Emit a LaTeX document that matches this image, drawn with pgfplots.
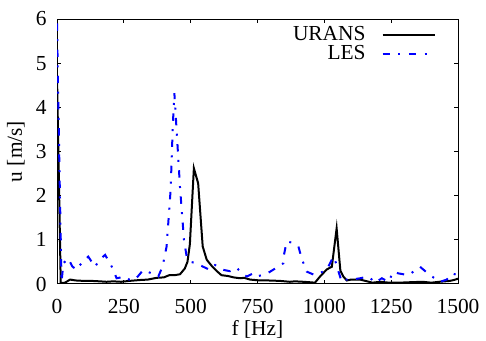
\documentclass[border=0pt]{standalone}
\usepackage{fontspec}
\setmainfont{Liberation Serif}
\usepackage{pgfplots}
\pgfplotsset{compat=1.18}
\begin{document}
\fontsize{10.7}{12}\selectfont
\begin{tikzpicture}
\begin{axis}[
  scale only axis,
  width=200.5pt, height=132.5pt,
  xmin=0, xmax=1500, ymin=0, ymax=6,
  xtick={0,250,500,750,1000,1250,1500},
  ytick={0,1,2,3,4,5,6},
  tick align=inside,
  major tick length=2.2pt,
  axis line style={line width=0.5pt},
  every tick/.style={black, line width=0.5pt},
  /pgf/number format/assume math mode=true,
  /pgf/number format/set thousands separator={},
  ticklabel style={font=\fontsize{10.7}{12}\selectfont},
  xticklabel style={yshift=-4pt},
  yticklabel style={xshift=-1.5pt},
  xlabel={f [Hz]}, ylabel={u [m/s]},
  label style={font=\fontsize{10.7}{12}\selectfont},
  xlabel style={yshift=4pt},
  ylabel style={yshift=-1.8pt},
  legend plot pos=right,
  legend cell align=right,
  legend style={draw=none, fill=none, at={(0.95,0.998)}, anchor=north east,
    font=\fontsize{10.7}{12}\selectfont, row sep=-3pt, inner sep=1pt},
  legend image code/.code={\path (0pt,0pt); \draw[#1] (6pt,0pt) -- (32pt,0pt);},
]
\addplot[black, line width=1pt] coordinates {
(0,4.73)(14,0.02)(30,0.03)(49,0.1)(70,0.08)(100,0.07)(130,0.07)(160,0.06)(185,0.05)(210,0.06)(240,0.05)(270,0.07)(310,0.09)(340,0.1)(373,0.14)(400,0.15)(420,0.2)(440,0.2)(460,0.22)(478,0.35)(488,0.5)(497,0.9)(512,2.62)(528,2.28)(545,0.85)(560,0.55)(580,0.4)(600,0.28)(615,0.2)(640,0.18)(660,0.15)(685,0.13)(700,0.14)(722,0.1)(759,0.08)(790,0.08)(834,0.07)(871,0.05)(890,0.06)(921,0.05)(945,0.04)(965,0.03)(984,0.17)(1009,0.33)(1028,0.39)(1046,1.26)(1060,0.3)(1071,0.17)(1084,0.08)(1100,0.1)(1134,0.1)(1160,0.06)(1180,0.03)(1210,0.05)(1242,0.03)(1280,0.03)(1320,0.04)(1367,0.05)(1400,0.03)(1430,0.05)(1470,0.07)(1490,0.1)(1500,0.12)
};
\addlegendentry{URANS}
\addplot[blue, line width=1pt, dash pattern=on 3.7pt off 4.2pt on 1pt off 4.2pt] coordinates {
(0,5.9)(8,3)(17,0.05)(24,0.47)(42,0.58)(57,0.4)(73,0.32)(95,0.5)(117,0.62)(142,0.39)(160,0.55)(180,0.66)(205,0.39)(223,0.13)(240,0.15)(254,0.17)(270,0.1)(291,0.09)(323,0.32)(350,0.25)(379,0.17)(395,0.4)(410,0.85)(425,2.13)(433,3.56)(439,4.32)(448,3.42)(460,2.2)(475,1.0)(485,0.62)(500,0.5)(522,0.47)(547,0.39)(572,0.32)(591,0.43)(622,0.32)(647,0.29)(672,0.37)(690,0.25)(710,0.17)(734,0.24)(747,0.17)(784,0.23)(816,0.35)(847,0.47)(850,0.69)(859,0.96)(878,0.94)(903,0.85)(915,0.58)(934,0.28)(965,0.2)(984,0.25)(1009,0.32)(1034,0.62)(1044,0.47)(1053,0.28)(1065,0.05)(1075,0.1)(1102,0.1)(1134,0.13)(1165,0.17)(1190,0.03)(1215,0.13)(1240,0.05)(1258,0.28)(1277,0.24)(1315,0.2)(1358,0.39)(1395,0.2)(1433,0.05)(1458,0.1)(1477,0.24)(1500,0.2)
};
\addlegendentry{LES}
\end{axis}
\pgfresetboundingbox
\path ([xshift=-28.5pt,yshift=-28.5pt]current axis.south west) rectangle ([xshift=14pt,yshift=9.5pt]current axis.north east);
\end{tikzpicture}
\end{document}
